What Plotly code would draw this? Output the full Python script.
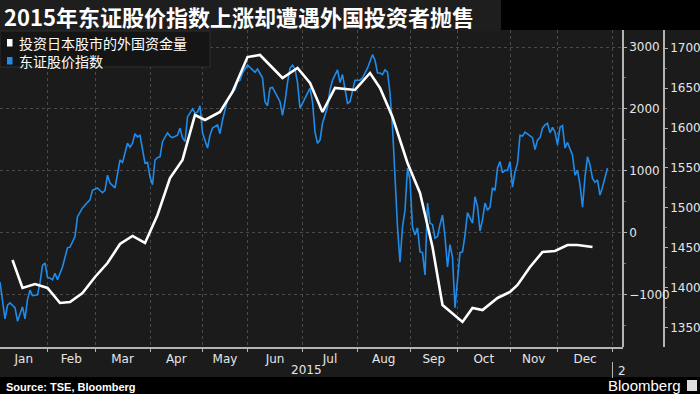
import plotly.graph_objects as go

# ---------------- data ----------------
title_text = "2015年东证股价指数上涨却遭遇外国投资者抛售"
series_names = ["投资日本股市的外国资金量", "东证股价指数"]
months = ["Jan", "Feb", "Mar", "Apr", "May", "Jun", "Jul", "Aug", "Sep", "Oct", "Nov", "Dec"]
# trading-day index at which each month starts (last entry = end of year)
month_bounds = [0, 19, 38, 60, 81, 99, 121, 143, 164, 183, 204, 223, 245]
year_label = "2015"
next_year_label = "2"
source_text = "Source: TSE, Bloomberg"

# TOPIX (right axis), trading-day index / level
topix_day = [0, 1, 2, 3, 4, 6, 7, 9, 10, 11, 12, 13, 15, 16, 17, 18, 19, 20, 21, 22, 23, 25, 27, 28,
             30, 31, 33, 35, 36, 37, 39, 41, 42, 43, 44, 46, 47, 48, 49, 51, 52, 53, 54, 55, 56, 58,
             59, 60, 61, 62, 63, 64, 65, 67, 68, 69, 71, 72, 73, 74, 75, 77, 78, 79, 80, 81, 83, 84,
             85, 87, 88, 89, 91, 93, 94, 95, 96, 97, 98, 99, 101, 102, 103, 104, 105, 106, 107, 108,
             109, 111, 112, 113, 114, 115, 116, 117, 118, 119, 120, 121, 123, 124, 125, 126, 127,
             128, 129, 131, 132, 133, 135, 136, 137, 138, 139, 140, 141, 142, 144, 145, 147, 148,
             149, 150, 151, 152, 153, 154, 155, 156, 157, 158, 159, 160, 161, 162, 163, 164, 165,
             166, 167, 168, 169, 170, 171, 172, 173, 174, 175, 176, 177, 178, 179, 180, 181, 182,
             183, 184, 185, 186, 187, 189, 190, 191, 192, 193, 194, 195, 196, 197, 198, 199, 200,
             201, 202, 203, 204, 205, 206, 207, 208, 209, 210, 211, 213, 214, 215, 216, 217, 218,
             219, 220, 221, 222, 223, 224, 225, 226, 227, 229, 230, 231, 232, 233, 234, 235, 236,
             237, 238, 239, 240, 241, 242, 243]
topix_val = [1407, 1385, 1361, 1378, 1381, 1375, 1358, 1376, 1361, 1385, 1397, 1390, 1391, 1406, 1428,
             1431, 1413, 1412, 1410, 1418, 1410, 1426, 1450, 1451, 1464, 1489, 1500, 1507, 1510, 1522,
             1525, 1519, 1522, 1541, 1531, 1525, 1545, 1560, 1557, 1581, 1576, 1581, 1593, 1589, 1591,
             1556, 1557, 1539, 1529, 1560, 1563, 1564, 1583, 1594, 1590, 1588, 1591, 1600, 1588, 1583,
             1614, 1624, 1619, 1620, 1628, 1594, 1575, 1591, 1600, 1604, 1593, 1610, 1635, 1645, 1648,
             1658, 1660, 1669, 1674, 1679, 1673, 1670, 1674, 1669, 1663, 1633, 1628, 1650, 1651, 1639,
             1633, 1616, 1633, 1657, 1675, 1679, 1674, 1657, 1625, 1631, 1644, 1650, 1633, 1595, 1581,
             1585, 1606, 1626, 1648, 1660, 1673, 1657, 1667, 1648, 1631, 1633, 1645, 1660, 1660, 1663,
             1675, 1685, 1692, 1685, 1669, 1669, 1667, 1673, 1670, 1644, 1601, 1539, 1476, 1432, 1476,
             1497, 1550, 1535, 1476, 1466, 1475, 1445, 1444, 1416, 1506, 1481, 1479, 1462, 1464, 1479,
             1491, 1464, 1426, 1454, 1438, 1375, 1413, 1444, 1445, 1466, 1494, 1481, 1514, 1502, 1471,
             1485, 1506, 1497, 1501, 1525, 1522, 1550, 1558, 1544, 1547, 1547, 1558, 1526, 1545, 1556,
             1591, 1590, 1595, 1593, 1588, 1573, 1585, 1588, 1600, 1604, 1606, 1594, 1601, 1595, 1579,
             1601, 1603, 1575, 1582, 1566, 1541, 1547, 1529, 1501, 1539, 1564, 1554, 1537, 1532, 1535,
             1516, 1526, 1539, 1550]

# Cumulative foreign investment (left axis), weekly
flow_day = [5, 9, 14, 19, 24, 28, 33, 38, 43, 48, 53, 58, 63, 68, 73, 78, 82, 88, 93, 99, 104, 113,
            119, 124, 129, 134, 142, 148, 152, 157, 163, 168, 173, 177, 185, 189, 193, 199, 204, 207,
            212, 217, 222, 227, 231, 237]
flow_val = [-441, -893, -829, -893, -1136, -1120, -974, -716, -490, -183, -53, -166, 286, 884, 1175,
            1902, 1821, 1950, 2273, 2838, 2871, 2500, 2661, 2419, 1950, 2338, 2306, 2580, 2338, 1869,
            1126, 641, -231, -1168, -1442, -1216, -1249, -1055, -958, -845, -554, -312, -296, -199,
            -199, -231]

flow_ticks = [-1000, 0, 1000, 2000, 3000]
topix_ticks = [1350, 1400, 1450, 1500, 1550, 1600, 1650, 1700]

# ---------------- style / layout ----------------
W, H = 700, 394
M_T, M_B = 30, 47
PLOT_H = H - M_T - M_B
BG = "#1b1b1b"
AXC = "#b4b4b4"
GRID = "#4a4a4a"
TXT = "#e6e6e6"
BLUE = "#1f8ceb"
TICKFONT = dict(family="DejaVu Sans", size=12, color=TXT)


def px_x(px):
    return px / W


def px_y(py):
    return (H - M_B - py) / PLOT_H


mid = [(month_bounds[i] + month_bounds[i + 1]) / 2 for i in range(12)]

fig = go.Figure()
fig.add_trace(go.Scatter(x=topix_day, y=topix_val, mode="lines", name=series_names[1],
                         line=dict(color=BLUE, width=1.6), yaxis="y", showlegend=False))
fig.add_trace(go.Scatter(x=flow_day, y=flow_val, mode="lines", name=series_names[0],
                         line=dict(color="white", width=2.6), yaxis="y2", showlegend=False))

fig.update_layout(
    width=W, height=H,
    margin=dict(l=0, r=0, t=M_T, b=M_B),
    paper_bgcolor=BG, plot_bgcolor=BG,
    showlegend=False,
    xaxis=dict(
        domain=[0, 623 / W], range=[0, 249.2],
        tickmode="array", tickvals=mid, ticktext=months, ticks="",
        showgrid=False, zeroline=False, showline=True, linecolor=AXC, linewidth=1.5,
        tickfont=TICKFONT, automargin=False, ticklabelstandoff=0,
        minor=dict(tickmode="array", tickvals=month_bounds[1:], showgrid=True,
                   gridcolor=GRID, griddash="dot", gridwidth=1,
                   ticks="outside", ticklen=3, tickcolor=AXC),
    ),
    yaxis=dict(
        anchor="free", position=664 / W, side="right",
        range=[1325.7, 1722.9], tickmode="array", tickvals=topix_ticks,
        ticks="outside", ticklen=3, tickcolor=AXC,
        showgrid=False, zeroline=False, showline=True, linecolor=AXC, linewidth=1.5,
        tickfont=TICKFONT, automargin=False,
        minor=dict(dtick=25, tick0=1325, ticks="outside", ticklen=2, tickcolor="#777", showgrid=False),
    ),
    yaxis2=dict(
        overlaying="y", anchor="free", position=623 / W, side="right",
        range=[-1847, 3275], tickmode="array", tickvals=flow_ticks,
        ticks="outside", ticklen=3, tickcolor=AXC,
        showgrid=True, gridcolor=GRID, griddash="dot", gridwidth=1,
        zeroline=False, showline=True, linecolor=AXC, linewidth=1.5,
        tickfont=TICKFONT, automargin=False,
        minor=dict(dtick=500, tick0=-1500, ticks="outside", ticklen=2, tickcolor="#777", showgrid=False),
    ),
)

shapes = []
ann = []
# title band
shapes.append(dict(type="rect", xref="paper", yref="paper", x0=px_x(0), x1=px_x(501),
                   y0=px_y(31), y1=px_y(0), fillcolor="#1e1e1e", line=dict(width=0), layer="below"))
shapes.append(dict(type="rect", xref="paper", yref="paper", x0=px_x(501), x1=px_x(700),
                   y0=px_y(30), y1=px_y(0), fillcolor="#000000", line=dict(width=0), layer="below"))
# bottom source band
shapes.append(dict(type="rect", xref="paper", yref="paper", x0=0, x1=1,
                   y0=px_y(394), y1=px_y(377), fillcolor="#000000", line=dict(width=0), layer="below"))
# legend box
shapes.append(dict(type="rect", xref="paper", yref="paper", x0=px_x(0), x1=px_x(210),
                   y0=px_y(67), y1=px_y(31), fillcolor="#151515", line=dict(color="#2e2e2e", width=1),
                   layer="above"))
shapes.append(dict(type="rect", xref="paper", yref="paper", x0=px_x(7), x1=px_x(12.5),
                   y0=px_y(46.5), y1=px_y(39), fillcolor="white", line=dict(width=0)))
shapes.append(dict(type="rect", xref="paper", yref="paper", x0=px_x(7), x1=px_x(12.5),
                   y0=px_y(64.5), y1=px_y(57), fillcolor=BLUE, line=dict(width=0)))
# year divider tick
shapes.append(dict(type="line", xref="x", yref="paper", x0=month_bounds[-1], x1=month_bounds[-1],
                   y0=px_y(378), y1=px_y(362), line=dict(color=AXC, width=1)))
# bloomberg icon
shapes.append(dict(type="rect", xref="paper", yref="paper", x0=px_x(687), x1=px_x(697),
                   y0=px_y(391), y1=px_y(380), fillcolor="#dddddd", line=dict(width=0)))

ann.append(dict(text=title_text, xref="paper", yref="paper", x=px_x(2), y=px_y(16),
                xanchor="left", yanchor="middle", showarrow=False,
                font=dict(family="Noto Sans CJK SC", size=22, color="white", weight="bold")))
ann.append(dict(text=series_names[0] + "<br>" + series_names[1], xref="paper", yref="paper",
                x=px_x(17), y=px_y(52), xanchor="left", yanchor="middle", align="left",
                showarrow=False,
                font=dict(family="Noto Sans CJK SC", size=14, color="white")))
ann.append(dict(text=year_label, xref="x", yref="paper", x=month_bounds[-1] / 2, y=px_y(370),
                xanchor="center", yanchor="middle", showarrow=False, font=TICKFONT))
ann.append(dict(text=next_year_label, xref="x", yref="paper", x=month_bounds[-1] + 1.5, y=px_y(371),
                xanchor="left", yanchor="middle", showarrow=False, font=TICKFONT))
ann.append(dict(text="<b>" + source_text + "</b>", xref="paper", yref="paper", x=px_x(4), y=px_y(386.5),
                xanchor="left", yanchor="middle", showarrow=False,
                font=dict(family="Liberation Sans", size=11, color="white")))
ann.append(dict(text="Bloomberg", xref="paper", yref="paper", x=px_x(683), y=px_y(385.5),
                xanchor="right", yanchor="middle", showarrow=False,
                font=dict(family="Liberation Sans", size=15, color="white")))

fig.update_layout(shapes=shapes, annotations=ann)
fig.write_html("out.html")
